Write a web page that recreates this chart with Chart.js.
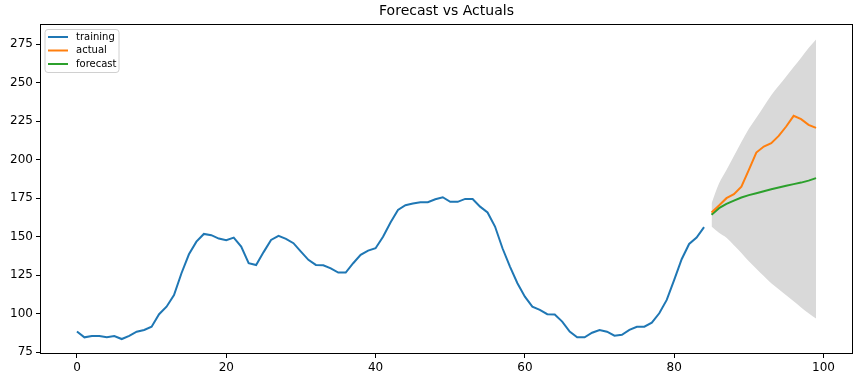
<!DOCTYPE html>
<html>
<head>
<meta charset="utf-8">
<script src="https://cdn.jsdelivr.net/npm/chart.js@4.4.1/dist/chart.umd.min.js"></script>
<style>
  html, body { margin: 0; padding: 0; background: #fff; }
  #wrap { width: 862px; height: 379px; }
</style>
</head>
<body>
<div id="wrap"><canvas id="forecast-chart"></canvas></div>
<script>
// training series, x = 0..84
var training = [88.5, 84.7, 85.6, 85.6, 84.7, 85.6, 83.6, 85.6, 88.4, 89.5,
                91.6, 99.7, 104.6, 112.2, 126.3, 138.6, 146.8, 151.8, 151, 148.8,
                147.7, 149.4, 143.6, 132.8, 131.6, 140, 147.9, 150.5, 148.6, 145.8,
                140.3, 135, 131.7, 131.5, 129.5, 126.7, 126.7, 132.8, 138.2, 141,
                142.5, 150, 159.2, 167.4, 170.4, 171.5, 172.4, 172.4, 174.3, 175.6,
                172.6, 172.6, 174.5, 174.4, 169.5, 165.7, 156.6, 142.5, 130.6, 119.8,
                111.1, 104.6, 102.5, 99.7, 99.5, 94.9, 88.4, 84.7, 84.7, 87.7,
                89.5, 88.4, 85.8, 86.4, 89.5, 91.6, 91.6, 94.2, 100.3, 109,
                122, 135.4, 145.3, 149.4, 156.2];
// test period, x = 85..99
var testStart = 85;
var actual   = [165.7, 170.2, 175, 177.6, 182.5, 193.4, 204.6, 208.5, 210.7, 215.4,
                221.5, 228.4, 226.3, 222.6, 220.6];
var forecast = [164.2, 168.5, 171.3, 173.4, 175.4, 177, 178.2, 179.5, 180.8, 181.9,
                183, 184.1, 185.1, 186.4, 188];
var lowerBound = [156.7, 152.5, 149.3, 144.4, 139.4, 134, 129.2, 124.5, 119.8, 115.9,
                  112, 108.1, 104.1, 100.4, 97];
var upperBound = [171.5, 184.5, 193.3, 202.4, 211.4, 220, 227.2, 234.5, 241.8, 247.9,
                  254, 260.1, 266.1, 272.4, 278];
var xTicks = [0, 20, 40, 60, 80, 100];
var yTicks = [75, 100, 125, 150, 175, 200, 225, 250, 275];
var seriesNames = ["training", "actual", "forecast"];
var seriesColors = ["#1f77b4", "#ff7f0e", "#2ca02c"];

function toPoints(values, start) {
  return values.map(function(v, i) { return { x: start + i, y: v }; });
}

var FONT = "'DejaVu Sans', sans-serif";

// black box around the plot area, like matplotlib spines
var frame = {
  id: 'frame',
  afterDraw: function(chart) {
    var a = chart.chartArea, ctx = chart.ctx;
    ctx.save();
    ctx.strokeStyle = '#000';
    ctx.lineWidth = 1;
    ctx.strokeRect(Math.round(a.left) + 0.5, Math.round(a.top) + 0.5,
                   Math.round(a.right - a.left) - 1, Math.round(a.bottom - a.top) - 1);
    ctx.restore();
  }
};

// legend box in the upper left corner of the plot
var innerLegend = {
  id: 'innerLegend',
  afterDraw: function(chart) {
    var a = chart.chartArea, ctx = chart.ctx;
    var x = a.left + 5, y = a.top + 5.5, w = 74, h = 43, r = 3;
    ctx.save();
    ctx.beginPath();
    ctx.moveTo(x + r, y);
    ctx.arcTo(x + w, y, x + w, y + h, r);
    ctx.arcTo(x + w, y + h, x, y + h, r);
    ctx.arcTo(x, y + h, x, y, r);
    ctx.arcTo(x, y, x + w, y, r);
    ctx.closePath();
    ctx.fillStyle = 'rgba(255,255,255,0.8)';
    ctx.fill();
    ctx.strokeStyle = '#d0d0d0';
    ctx.lineWidth = 1;
    ctx.stroke();
    ctx.font = '10px ' + FONT;
    ctx.textBaseline = 'middle';
    ctx.fillStyle = '#000';
    seriesNames.forEach(function(name, i) {
      var ly = y + 7.5 + i * 13.5;
      ctx.strokeStyle = seriesColors[i];
      ctx.lineWidth = 2;
      ctx.beginPath();
      ctx.moveTo(x + 3, ly);
      ctx.lineTo(x + 23, ly);
      ctx.stroke();
      ctx.fillText(name, x + 31, ly);
    });
    ctx.restore();
  }
};

new Chart(document.getElementById("forecast-chart"), {
  type: 'line',
  data: {
    datasets: [
      {
        label: seriesNames[0],
        data: toPoints(training, 0),
        borderColor: seriesColors[0],
        borderWidth: 2,
        pointRadius: 0,
        fill: false
      }, {
        label: seriesNames[1],
        data: toPoints(actual, testStart),
        borderColor: seriesColors[1],
        borderWidth: 2,
        pointRadius: 0,
        fill: false
      }, {
        label: seriesNames[2],
        data: toPoints(forecast, testStart),
        borderColor: seriesColors[2],
        borderWidth: 2,
        pointRadius: 0,
        fill: false
      }, {
        label: 'lower',
        data: toPoints(lowerBound, testStart),
        borderWidth: 0,
        borderColor: 'rgba(0,0,0,0)',
        pointRadius: 0,
        cubicInterpolationMode: 'monotone',
        fill: false
      }, {
        label: 'upper',
        data: toPoints(upperBound, testStart),
        borderWidth: 0,
        borderColor: 'rgba(0,0,0,0)',
        backgroundColor: 'rgb(217,217,217)',
        pointRadius: 0,
        cubicInterpolationMode: 'monotone',
        fill: '-1'
      }
    ]
  },
  options: {
    responsive: true,
    maintainAspectRatio: false,
    animation: false,
    layout: { padding: { left: 0, right: 9, top: 0, bottom: 0 } },
    plugins: {
      legend: { display: false },
      tooltip: { enabled: false },
      title: {
        display: true,
        text: 'Forecast vs Actuals',
        fullSize: false,
        color: '#000',
        font: { family: FONT, size: 14, weight: 'normal', lineHeight: 1.2 },
        padding: { top: 3, bottom: 4.2 }
      }
    },
    scales: {
      x: {
        type: 'linear',
        min: -4.95,
        max: 103.95,
        afterBuildTicks: function(scale) {
          scale.ticks = xTicks.map(function(v) { return { value: v }; });
        },
        afterFit: function(scale) { scale.height = 25; },
        border: { display: false },
        grid: { drawOnChartArea: false, tickLength: 4, color: '#000', tickColor: '#000' },
        ticks: {
          color: '#000',
          padding: 3,
          maxRotation: 0,
          font: { family: FONT, size: 12 },
          callback: function(v) { return v; }
        }
      },
      y: {
        min: 73.9,
        max: 288,
        afterBuildTicks: function(scale) {
          scale.ticks = yTicks.map(function(v) { return { value: v }; });
        },
        afterFit: function(scale) { scale.width = 40; },
        border: { display: false },
        grid: { drawOnChartArea: false, tickLength: 4, color: '#000', tickColor: '#000' },
        ticks: {
          color: '#000',
          padding: 3,
          font: { family: FONT, size: 12 },
          callback: function(v) { return v; }
        }
      }
    }
  },
  plugins: [frame, innerLegend]
});
</script>
</body>
</html>
